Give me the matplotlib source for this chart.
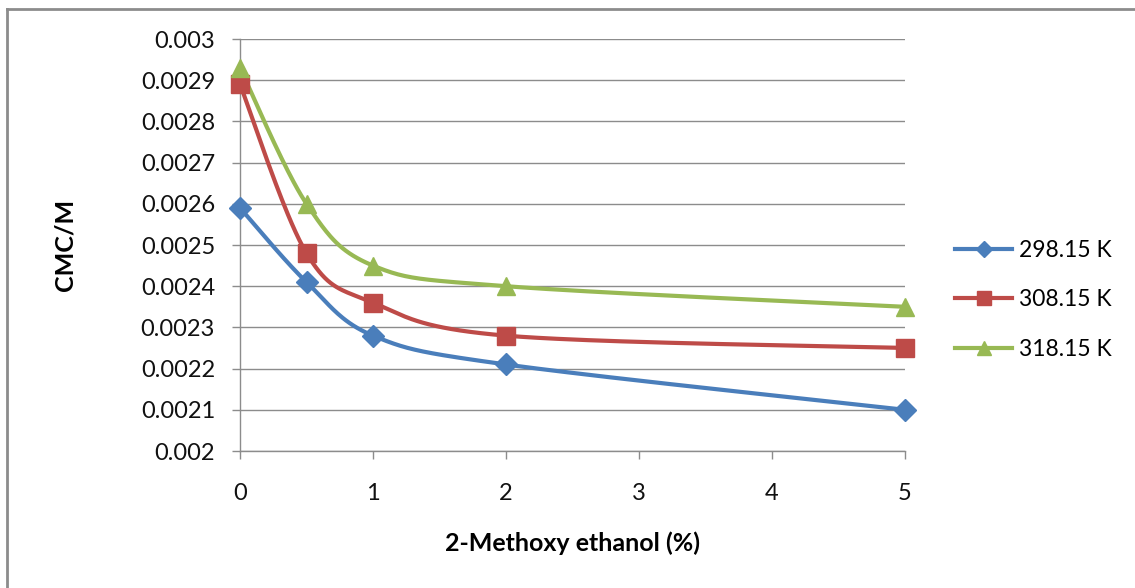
import matplotlib.pyplot as plt
import numpy as np
from matplotlib.lines import Line2D

plt.rcParams['font.family'] = ['Lato', 'DejaVu Sans']

# data
conc = [0, 0.5, 1, 2, 5]
cmc_298 = [0.00259, 0.00241, 0.00228, 0.00221, 0.00210]
cmc_308 = [0.00289, 0.00248, 0.00236, 0.00228, 0.00225]
cmc_318 = [0.00293, 0.00260, 0.00245, 0.00240, 0.00235]
labels = ['298.15 K', '308.15 K', '318.15 K']
colors = ['#4A7EBB', '#BE4B48', '#98B954']
markers = ['D', 's', '^']
msizes = [11, 13, 13]
leg_msizes = [8, 10, 10]


def smooth(x, y, n=40):
    # excel-like bezier smoothing through the points
    x = np.asarray(x, float)
    y = np.asarray(y, float)
    px = np.concatenate([[x[0]], x, [x[-1]]])
    py = np.concatenate([[y[0]], y, [y[-1]]])
    t = np.linspace(0, 1, n)[:, None]
    xs, ys = [], []
    for i in range(len(x) - 1):
        p0 = np.array([px[i + 1], py[i + 1]])
        p3 = np.array([px[i + 2], py[i + 2]])
        c1 = p0 + (np.array([px[i + 2], py[i + 2]]) - np.array([px[i], py[i]])) / 6
        c2 = p3 - (np.array([px[i + 3], py[i + 3]]) - np.array([px[i + 1], py[i + 1]])) / 6
        b = ((1 - t) ** 3) * p0 + 3 * ((1 - t) ** 2) * t * c1 + 3 * (1 - t) * t ** 2 * c2 + t ** 3 * p3
        xs.append(b[:, 0])
        ys.append(b[:, 1])
    return np.concatenate(xs), np.concatenate(ys)


fig = plt.figure(figsize=(11.35, 5.88), dpi=100)
ax = fig.add_axes([240 / 1135, 1 - 451 / 588, 665 / 1135, 412 / 588])

for yv, c, m, ms in zip([cmc_298, cmc_308, cmc_318], colors, markers, msizes):
    sx, sy = smooth(conc, yv)
    ax.plot(sx, sy, color=c, lw=3, solid_capstyle='round', zorder=3, clip_on=False)
    ax.plot(conc, yv, ls='none', marker=m, ms=ms, color=c, zorder=4, clip_on=False)

ax.set_xlim(0, 5)
ax.set_ylim(0.002, 0.003)
ax.set_xticks([0, 1, 2, 3, 4, 5])
ax.set_yticks(np.arange(0.002, 0.00301, 0.0001))
ax.set_yticklabels(['0.002', '0.0021', '0.0022', '0.0023', '0.0024', '0.0025',
                    '0.0026', '0.0027', '0.0028', '0.0029', '0.003'])
ax.grid(axis='y', color='#8c8c8c', lw=1)
ax.set_axisbelow(True)
for s in ['top', 'right']:
    ax.spines[s].set_visible(False)
for s in ['left', 'bottom']:
    ax.spines[s].set_color('#8c8c8c')
    ax.spines[s].set_linewidth(1)
ax.tick_params(axis='both', colors='#8c8c8c', labelcolor='#111111', labelsize=17,
               length=6, width=1)
ax.tick_params(axis='y', pad=12)
ax.tick_params(axis='x', pad=17)

ax.set_ylabel('CMC/M', fontsize=18, fontweight='bold', labelpad=46)
ax.set_xlabel('2-Methoxy ethanol (%)', fontsize=18, fontweight='bold', labelpad=20)

handles = [Line2D([], [], color=c, lw=3, marker=m, ms=ms)
           for c, m, ms in zip(colors, markers, leg_msizes)]
fig.legend(handles, labels, loc='center left', bbox_to_anchor=(955 / 1135, 1 - 300 / 588),
           frameon=False, fontsize=16.5, handlelength=2.5, handletextpad=0.3,
           labelspacing=1.25, borderpad=0, borderaxespad=0)

# outer chart border
fig.add_artist(Line2D([7 / 1135, 7 / 1135], [0, 1 - 9 / 588], color='#8c8c8c', lw=2,
                      transform=fig.transFigure))
fig.add_artist(Line2D([7 / 1135, 1], [1 - 9 / 588, 1 - 9 / 588], color='#8c8c8c', lw=2,
                      transform=fig.transFigure))

plt.savefig('out.png', dpi=100)
